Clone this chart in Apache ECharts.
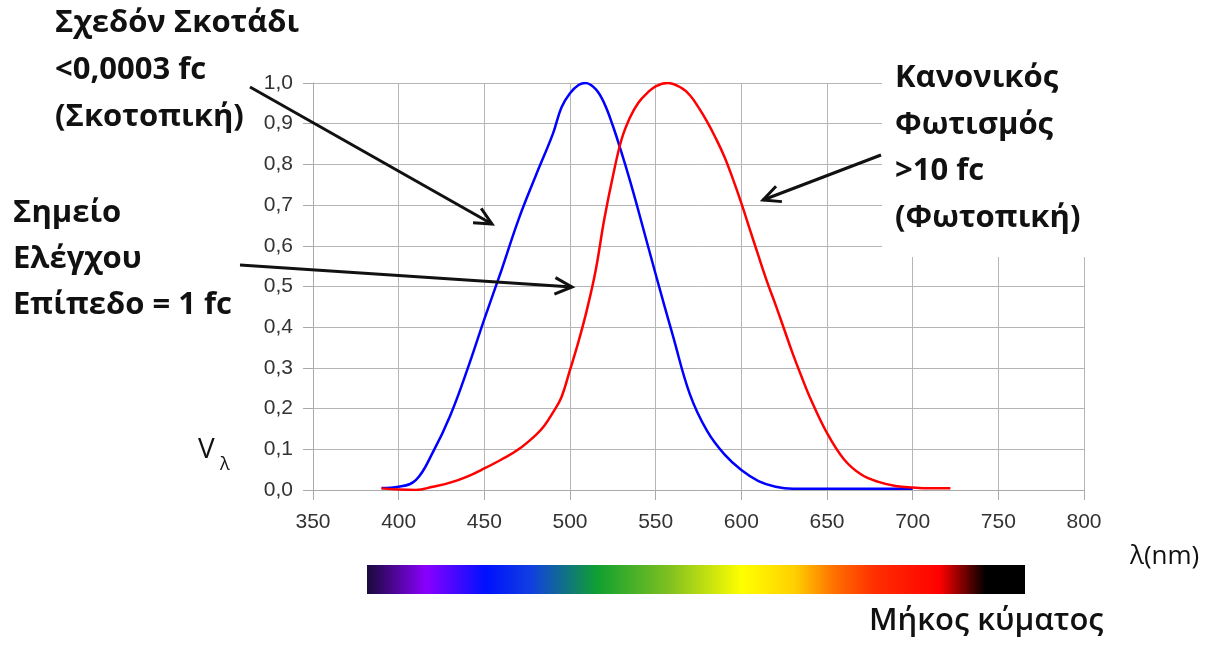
<!DOCTYPE html>
<html>
<head>
<meta charset="utf-8">
<script src="https://cdn.jsdelivr.net/npm/echarts@6/dist/echarts.min.js"></script>
<style>
  html, body { margin: 0; padding: 0; background: #fff; }
  #chart { width: 1205px; height: 650px; }
</style>
</head>
<body>
<div id="chart"></div>
<script type="text/javascript">

    // σκοτοπική καμπύλη (μπλε)
    var scotopicNm = [390, 400, 410, 420, 430, 440, 450, 460, 470, 480, 490, 495, 500, 505, 509, 515, 520, 525, 530, 535, 540, 550, 560, 570, 580, 590, 600, 610, 620, 630, 650, 700];
    var scotopicV  = [0.005, 0.008, 0.024, 0.093, 0.182, 0.295, 0.42, 0.54, 0.665, 0.772, 0.875, 0.94, 0.975, 0.995, 1.0, 0.985, 0.95, 0.895, 0.83, 0.76, 0.685, 0.53, 0.38, 0.235, 0.145, 0.088, 0.049, 0.022, 0.008, 0.003, 0.003, 0.003];

    // φωτοπική καμπύλη (κόκκινη)
    var photopicNm = [390, 400, 410, 420, 430, 440, 450, 460, 470, 480, 485, 490, 495, 500, 505, 510, 515, 520, 525, 530, 535, 540, 545, 550, 557, 565, 570, 575, 580, 585, 590, 595, 600, 605, 610, 615, 620, 625, 630, 635, 640, 650, 660, 670, 680, 690, 700, 710, 722];
    var photopicV  = [0.004, 0.001, 0.0, 0.008, 0.018, 0.033, 0.053, 0.075, 0.1, 0.135, 0.158, 0.19, 0.228, 0.295, 0.365, 0.445, 0.54, 0.665, 0.77, 0.86, 0.915, 0.952, 0.975, 0.992, 1.0, 0.988, 0.97, 0.94, 0.905, 0.865, 0.82, 0.765, 0.705, 0.64, 0.575, 0.512, 0.455, 0.395, 0.335, 0.28, 0.228, 0.14, 0.075, 0.038, 0.02, 0.01, 0.006, 0.004, 0.004];

    var xTicks = [350, 400, 450, 500, 550, 600, 650, 700, 750, 800];

    var myChart = echarts.init(document.getElementById('chart'));

    function pairs(xs, ys) {
        return xs.map(function (x, i) { return [x, ys[i]]; });
    }

    var black = '#111';
    var bold = { fontFamily: 'Open Sans', fontWeight: 'bold', fontSize: 31, fill: black };

    function arrow(x1, y1, x2, y2) {
        var a = Math.atan2(y2 - y1, x2 - x1), L = 19, w = 0.45;
        return [
            { type: 'line', shape: { x1: x1, y1: y1, x2: x2, y2: y2 }, style: { stroke: black, lineWidth: 3 }, z: 20 },
            { type: 'polyline', shape: { points: [
                [x2 - L * Math.cos(a - w), y2 - L * Math.sin(a - w)], [x2, y2],
                [x2 - L * Math.cos(a + w), y2 - L * Math.sin(a + w)]] },
              style: { stroke: black, lineWidth: 3, fill: null }, z: 20 }
        ];
    }

    function textLines(x, y0, step, lines, style) {
        return lines.map(function (t, i) {
            return { type: 'text', left: x, top: y0 + i * step, z: 30,
                     style: Object.assign({ text: t }, style) };
        });
    }

    var graphics = [
        // λευκό φόντο πίσω από το κείμενο πάνω δεξιά
        { type: 'rect', shape: { x: 882, y: 60, width: 230, height: 197 }, style: { fill: '#fff' }, z: 10 },
        // φάσμα
        { type: 'rect', shape: { x: 367, y: 565, width: 658, height: 29 }, z: 10,
          style: { fill: new echarts.graphic.LinearGradient(0, 0, 1, 0, [
              { offset: 0, color: '#1a0a3a' },
              { offset: 0.09, color: '#8a00ff' },
              { offset: 0.18, color: '#0010ff' },
              { offset: 0.25, color: '#1040e0' },
              { offset: 0.35, color: '#10a030' },
              { offset: 0.46, color: '#80c020' },
              { offset: 0.57, color: '#ffff00' },
              { offset: 0.65, color: '#ffd000' },
              { offset: 0.71, color: '#ff7000' },
              { offset: 0.77, color: '#ff3000' },
              { offset: 0.87, color: '#ff0000' },
              { offset: 0.94, color: '#000000' },
              { offset: 1, color: '#000000' }
          ]) } }
    ];
    graphics = graphics
        .concat(textLines(55, 8, 47, ['Σχεδόν Σκοτάδι', '<0,0003 fc', '(Σκοτοπική)'], bold))
        .concat(textLines(13, 198, 46, ['Σημείο', 'Ελέγχου', 'Επίπεδο = 1 fc'], bold))
        .concat(textLines(895, 63, 46.5, ['Κανονικός', 'Φωτισμός', '>10 fc', '(Φωτοπική)'], bold))
        .concat(arrow(250, 87, 492, 224))
        .concat(arrow(240, 265, 572, 287))
        .concat(arrow(881, 155, 763, 200))
        .concat([
            { type: 'text', left: 198, top: 436, z: 30,
              style: { text: 'V', fontFamily: 'Open Sans', fontSize: 28, fill: black } },
            { type: 'text', left: 220, top: 456, z: 30,
              style: { text: 'λ', fontFamily: 'Open Sans', fontSize: 18, fill: black } },
            { type: 'text', left: 1130, top: 544, z: 30,
              style: { text: 'λ(nm)', fontFamily: 'Open Sans', fontSize: 26, fill: black } },
            { type: 'text', left: 869, top: 606, z: 30,
              style: { text: 'Μήκος κύματος', fontFamily: 'Open Sans', fontWeight: 600, fontSize: 31, fill: black } }
        ]);

    var option = {
        animation: false,
        backgroundColor: '#fff',
        grid: { left: 313, right: 121, top: 83, bottom: 160 },
        xAxis: {
            type: 'value', min: 350, max: 800, interval: 50,
            axisLine: { show: true, lineStyle: { color: '#aaa' } },
            axisTick: { show: true, length: 10, lineStyle: { color: '#aaa' } },
            splitLine: { show: true, lineStyle: { color: '#b5b5b5', width: 1 } },
            axisLabel: { color: '#333', fontSize: 21, fontFamily: 'Liberation Sans', margin: 22,
                         formatter: function (v) { return xTicks.indexOf(v) >= 0 ? String(v) : ''; } }
        },
        yAxis: {
            type: 'value', min: 0, max: 1, interval: 0.1,
            axisLine: { show: true, lineStyle: { color: '#aaa' } },
            axisTick: { show: true, length: 10, lineStyle: { color: '#aaa' } },
            splitLine: { show: true, lineStyle: { color: '#b5b5b5', width: 1 } },
            axisLabel: { color: '#333', fontSize: 21, fontFamily: 'Liberation Sans', margin: 20,
                         formatter: function (v) { return v.toFixed(1).replace('.', ','); } }
        },
        series: [
            {
                name: 'Σκοτοπική', type: 'line', smooth: 0.4, symbol: 'none',
                lineStyle: { color: '#0000ff', width: 2.5 },
                data: pairs(scotopicNm, scotopicV)
            },
            {
                name: 'Φωτοπική', type: 'line', smooth: 0.4, symbol: 'none',
                lineStyle: { color: '#ff0000', width: 2.5 },
                data: pairs(photopicNm, photopicV)
            }
        ],
        graphic: graphics
    };

    myChart.setOption(option);
</script>
</body>
</html>
